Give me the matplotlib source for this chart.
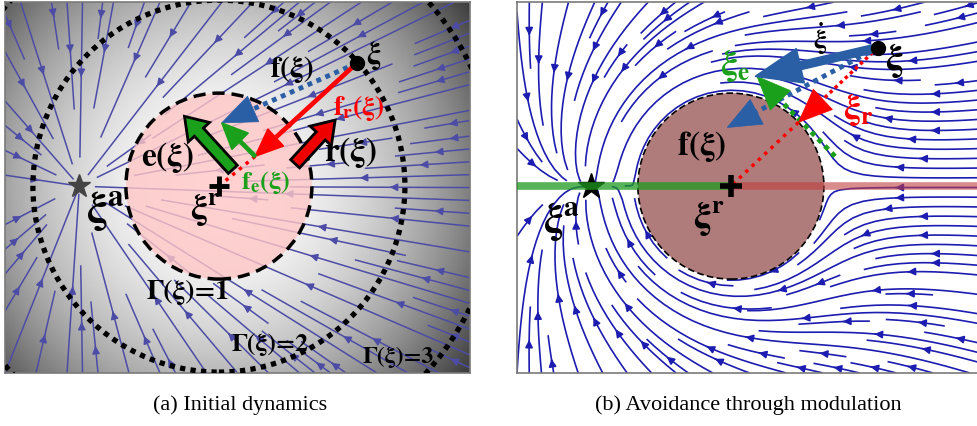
import numpy as np
import matplotlib.pyplot as plt
from matplotlib.patches import Circle

plt.rcParams['mathtext.fontset'] = 'custom'
for k in ['rm', 'it', 'bf', 'sf']:
    plt.rcParams['mathtext.' + k] = 'STIXGeneral:bold'
plt.rcParams['mathtext.default'] = 'rm'

# --- scene data (obstacle frame, radius = 1) ---
attractor = [-1.5, 0.0]
obs_center = [0.0, 0.0]
obs_radius = 1.0
gamma_levels = [1, 2, 3]
gamma_labels = ['Γ(ξ)=1', 'Γ(ξ)=2', 'Γ(ξ)=3']
gamma_label_pos = [(-0.33, -1.13), (0.55, -1.70), (1.93, -1.83)]

# left panel vectors
xi_a = [1.48, 1.32]
fr_tip_a = [0.39, 0.32]
f_tip_a = [0.03, 0.68]
e_arrow = [(0.15, 0.18), (-0.37, 0.75)]
r_arrow = [(0.82, 0.24), (1.25, 0.71)]

# right panel vectors
xi_b = [1.58, 1.49]
xidot_tip = [0.26, 1.18]
f_tip_b = [-0.04, 0.63]
xr_tip = [0.727, 0.686]
tangent = [(1.12, 0.32), (0.28, 1.18)]

xlim = (-2.30, 2.70)
ylim = (-2.01, 1.98)

BLUE = '#2a5fa5'
GREEN = '#1aa01a'
RED = '#ff0000'

fig = plt.figure(figsize=(9.78, 4.27), dpi=100)
ax1 = fig.add_axes([5/978, 53/427, 465/978, 371/427])
ax2 = fig.add_axes([517/978, 53/427, 465/978, 371/427])

xs = np.linspace(xlim[0], xlim[1], 250)
ys = np.linspace(ylim[0], ylim[1], 200)
X, Y = np.meshgrid(xs, ys)
U0 = -(X - attractor[0])
V0 = -(Y - attractor[1])


def head(ax, start, tip, color, hl, hw, dotted=True, lw=3.5):
    start, tip = np.array(start), np.array(tip)
    d = tip - start
    u = d / np.linalg.norm(d)
    base = tip - u * hl
    if dotted:
        ax.plot([start[0], base[0]], [start[1], base[1]], color=color, lw=lw,
                ls=(0, (1, 1)), zorder=5)
    ax.arrow(base[0], base[1], tip[0]-base[0], tip[1]-base[1], width=0.0,
             head_width=hw, head_length=hl, length_includes_head=True,
             fc=color, ec=color, lw=0.5, zorder=6)


# ================= (a) initial dynamics =================
ax = ax1
bg = np.clip(1 - 0.068 * ((X - obs_center[0])**2 + (Y - obs_center[1])**2), 0, 1)
ax.imshow(bg, extent=(xlim[0], xlim[1], ylim[0], ylim[1]), origin='lower',
          cmap='gray', vmin=0, vmax=1, zorder=0, aspect='auto')
ax.streamplot(xs, ys, U0, V0, color='#4c4ca6', linewidth=1.1, density=1.05,
              arrowsize=1.1, zorder=1)
ax.add_patch(Circle(obs_center, obs_radius, fc='#ffc6c6', ec='none', alpha=0.8, zorder=2))
ax.add_patch(Circle(obs_center, gamma_levels[0]*obs_radius, fc='none', ec='black',
                    lw=2.5, ls=(0, (3.5, 2)), zorder=3))
for g in gamma_levels[1:]:
    ax.add_patch(Circle(obs_center, g*obs_radius, fc='none', ec='black', lw=3.8,
                        ls=(0, (1, 1)), zorder=3))

# f(xi) blue dotted + head
head(ax, xi_a, f_tip_a, BLUE, hl=0.37, hw=0.30)
# f_r red arrow
ax.arrow(xi_a[0], xi_a[1], fr_tip_a[0]-xi_a[0], fr_tip_a[1]-xi_a[1], width=0.035,
         head_width=0.25, head_length=0.30, length_includes_head=True,
         fc=RED, ec=RED, zorder=6)
ax.plot([fr_tip_a[0], obs_center[0]], [fr_tip_a[1], obs_center[1]], color=RED,
        lw=2.5, ls=(0, (1, 1.5)), zorder=5)
# f_e green arrow
ax.arrow(fr_tip_a[0], fr_tip_a[1], f_tip_a[0]-fr_tip_a[0], f_tip_a[1]-fr_tip_a[1],
         width=0.035, head_width=0.25, head_length=0.28, length_includes_head=True,
         fc=GREEN, ec=GREEN, zorder=6)
# e and r fat arrows
for (p0, p1), c in [(e_arrow, GREEN), (r_arrow, '#ee0000')]:
    ax.arrow(p0[0], p0[1], p1[0]-p0[0], p1[1]-p0[1], width=0.13, head_width=0.31,
             head_length=0.23, length_includes_head=True, fc=c, ec='black',
             lw=2, zorder=7)

ax.plot(*xi_a, 'o', color='black', ms=10, zorder=8)
ax.plot(*obs_center, '+', color='black', ms=14, mew=3.5, zorder=8)
ax.plot(*attractor, '*', color='#444444', ms=17, zorder=8)

tk = dict(ha='center', va='center', zorder=9)
ax.text(1.66, 1.42, r'$\xi$', fontsize=22, **tk)
ax.text(0.78, 1.27, r'$f(\xi)$', fontsize=21, **tk)
ax.text(1.50, 0.85, r'$f_r(\xi)$', fontsize=20, color=RED, **tk)
ax.text(1.42, 0.37, r'$r(\xi)$', fontsize=24, **tk)
ax.text(-0.55, 0.32, r'$e(\xi)$', fontsize=24, **tk)
ax.text(0.50, 0.05, r'$f_e(\xi)$', fontsize=19, color=GREEN, **tk)
ax.text(-0.15, -0.24, r'$\xi^r$', fontsize=26, **tk)
ax.text(-1.22, -0.26, r'$\xi^a$', fontsize=32, **tk)
for lab, (px, py), fs in zip(gamma_labels, gamma_label_pos, [20, 18.5, 17]):
    ax.text(px, py, lab, fontsize=fs, family='STIXGeneral', fontweight='bold', **tk)

# ================= (b) modulated dynamics =================
ax = ax2
dx = X - obs_center[0]
dy = Y - obs_center[1]
dist = np.hypot(dx, dy)
gam = dist / obs_radius
nx, ny = dx / dist, dy / dist
ex, ey = -ny, nx
fr = U0 * nx + V0 * ny
fe = U0 * ex + V0 * ey
lam_r = 1 - 1 / gam
lam_e = 1 + 1 / gam
U1 = lam_r * fr * nx + lam_e * fe * ex
V1 = lam_r * fr * ny + lam_e * fe * ey
U1[gam < 1.0] = np.nan
V1[gam < 1.0] = np.nan

ax.set_facecolor('white')
ax.streamplot(xs, ys, U1, V1, color='#1c1cb0', linewidth=1.2, density=1.3,
              arrowsize=1.1, zorder=1)
ax.add_patch(Circle(obs_center, obs_radius, fc='#b07b7b', ec='black', lw=1.2,
                    ls=(0, (4, 2)), zorder=3))
ax.plot(*attractor, '*', color='black', ms=19, zorder=4)
ax.plot([xlim[0], obs_center[0]], [0, 0], color='#1f9a1f', lw=5.5, alpha=0.75,
        solid_capstyle='butt', zorder=5)
ax.plot([obs_center[0], xlim[1]], [0, 0], color='#c04040', lw=5.5, alpha=0.6,
        solid_capstyle='butt', zorder=5)

# red dotted to center with head on surface
ax.plot([xr_tip[0], obs_center[0]], [xr_tip[1], obs_center[1]], color=RED, lw=2.5,
        ls=(0, (1, 1.5)), zorder=6)
head(ax, xi_b, xr_tip, RED, hl=0.36, hw=0.3, lw=2.5)
head(ax, xi_b, f_tip_b, BLUE, hl=0.36, hw=0.3, lw=3.5)
head(ax, tangent[0], tangent[1], GREEN, hl=0.36, hw=0.3, lw=3.5)
ax.arrow(xi_b[0], xi_b[1], xidot_tip[0]-xi_b[0], xidot_tip[1]-xi_b[1], width=0.085,
         head_width=0.38, head_length=0.5, length_includes_head=True,
         fc=BLUE, ec=BLUE, zorder=7)
ax.plot(*xi_b, 'o', color='black', ms=10, zorder=8)
ax.plot(*obs_center, '+', color='black', ms=16, mew=4, zorder=8)

ax.text(1.76, 1.36, r'$\xi$', fontsize=27, **tk)
ax.text(0.96, 1.60, r'$\dot{\xi}$', fontsize=20, **tk)
ax.text(0.04, 1.31, r'$\xi_e$', fontsize=26, color=GREEN, **tk)
ax.text(1.37, 0.83, r'$\xi_r$', fontsize=26, color=RED, **tk)
ax.text(-0.31, 0.44, r'$f(\xi)$', fontsize=24, **tk)
ax.text(-1.82, -0.38, r'$\xi^a$', fontsize=30, **tk)
ax.text(-0.24, -0.34, r'$\xi^r$', fontsize=27, **tk)

for a in (ax1, ax2):
    a.set_xlim(xlim)
    a.set_ylim(ylim)
    a.set_xticks([])
    a.set_yticks([])
    for s in a.spines.values():
        s.set_color('#7a7a7a')
        s.set_linewidth(1.2)

fig.text(240/978, 22/427, '(a) Initial dynamics', ha='center', va='center',
         fontsize=16, family='Liberation Serif')
fig.text(748/978, 22/427, '(b) Avoidance through modulation', ha='center',
         va='center', fontsize=16, family='Liberation Serif')

fig.savefig('out.png', dpi=100)
